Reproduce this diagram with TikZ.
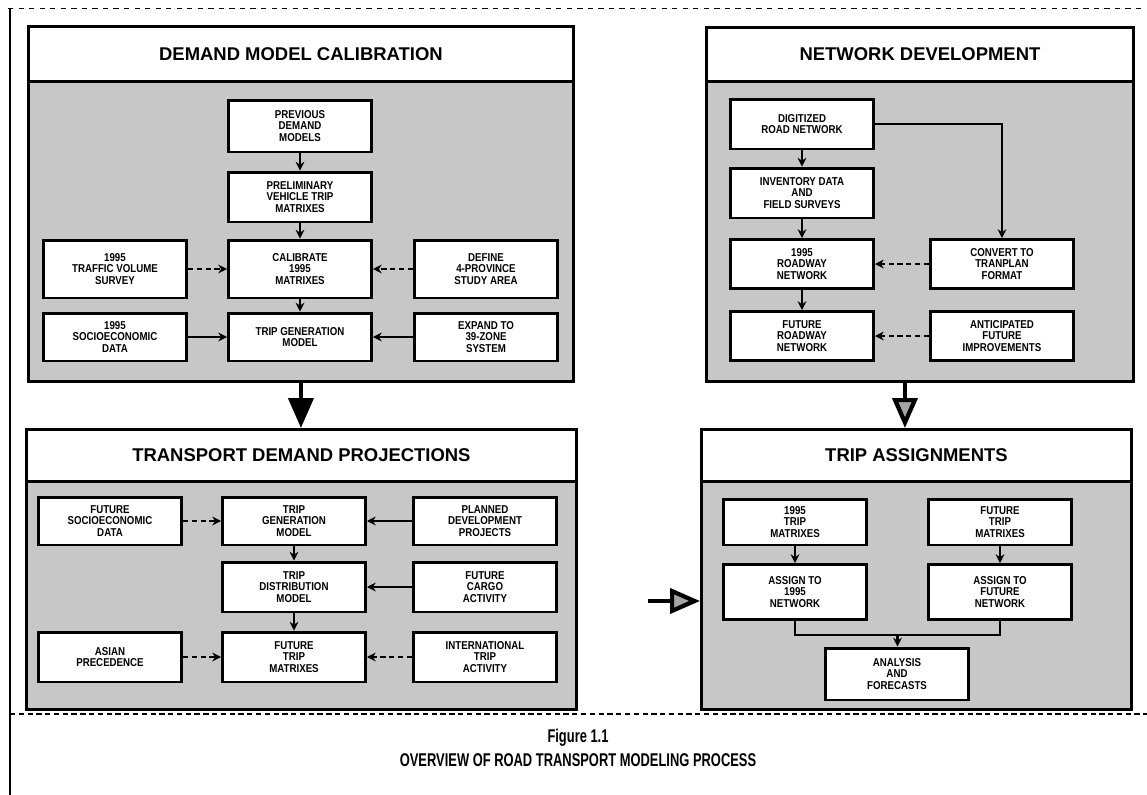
\documentclass[tikz,border=0pt]{standalone}
\usepackage{fontspec}
\setmainfont{Liberation Sans}
\newfontfamily\narrowfont{Liberation Sans}[FakeStretch=0.85]
\newfontfamily\captionfont{Liberation Sans}[FakeStretch=0.7]
\usetikzlibrary{arrows.meta}
\usetikzlibrary{positioning}
\usetikzlibrary{calc}
\tikzstyle{heavyLine}=[line width=1.7pt]
\tikzstyle{normalLine}=[line width=1.2pt]
\tikzstyle{tinyLine}=[line width=.5pt]
\tikzstyle{Panel}=[heavyLine,draw,anchor=north west,inner sep=0pt]
\tikzstyle{Head}=[Panel,fill=white,font=\bfseries\fontsize{10.5}{12}\selectfont]
\tikzstyle{Body}=[Panel,fill=black!22]
\tikzstyle{Box}=[heavyLine,draw,fill=white,align=center,inner sep=1pt,minimum width=2.86cm,minimum height=1cm,font=\narrowfont\bfseries\fontsize{6.5}{6.6}\selectfont]
\tikzstyle{Flow}=[normalLine,-{Stealth[length=5pt,width=5pt]}]
\tikzstyle{Feed}=[normalLine,densely dashed,-{Stealth[length=5pt,width=5pt]}]
\tikzstyle{BigArrow}=[line width=2.4pt,-{Triangle[length=0.6cm,width=0.5cm]}]
\tikzstyle{GreyArrow}=[line width=2.4pt,-{Triangle[length=0.6cm,width=0.5cm,fill=black!35]}]

\begin{document}
\begin{tikzpicture}[x=0.02cm,y=-0.02cm]

  \useasboundingbox (0,0) rectangle (1147,795);

  % Frame
  % -----
  \draw[tinyLine,dashed] (8,8) -- (1147,8);
  \draw[normalLine] (10,8) -- (10,795);
  \draw[normalLine,densely dashed] (10,714) -- (1147,714);

  % Demand model calibration
  % ------------------------
  \node[Body,minimum width=10.9cm,minimum height=6cm] (CalBody) at (27,80) {};
  \node[Head,minimum width=10.9cm,minimum height=1.1cm] (CalHead) at (27,25) {DEMAND MODEL CALIBRATION};

  \node[Box,minimum height=1.04cm] (PrevModels) at (300,126) {PREVIOUS\\DEMAND\\MODELS};
  \node[Box] (PrelimTrips) at (300,197) {PRELIMINARY\\VEHICLE TRIP\\MATRIXES};
  \node[Box,minimum height=1.16cm] (TrafficSurvey) at (115,269) {1995\\TRAFFIC VOLUME\\SURVEY};
  \node[Box,minimum height=1.16cm] (Calibrate) at (300,269) {CALIBRATE\\1995\\MATRIXES};
  \node[Box,minimum height=1.16cm] (StudyArea) at (486,269) {DEFINE\\4-PROVINCE\\STUDY AREA};
  \node[Box,minimum height=.96cm] (SocioData) at (115,337) {1995\\SOCIOECONOMIC\\DATA};
  \node[Box,minimum height=.96cm] (TripGen) at (300,337) {TRIP GENERATION\\MODEL};
  \node[Box,minimum height=.96cm] (ZoneSystem) at (486,337) {EXPAND TO\\39-ZONE\\SYSTEM};

  \draw[Flow] (PrevModels) -- (PrelimTrips);
  \draw[Flow] (PrelimTrips) -- (Calibrate);
  \draw[Flow] (Calibrate) -- (TripGen);
  \draw[Feed] (TrafficSurvey) -- (Calibrate);
  \draw[Feed] (StudyArea) -- (Calibrate);
  \draw[Flow] (SocioData) -- (TripGen);
  \draw[Flow] (ZoneSystem) -- (TripGen);

  % Network development
  % -------------------
  \node[Body,minimum width=8.54cm,minimum height=6cm] (NetBody) at (705,80) {};
  \node[Head,minimum width=8.54cm,minimum height=1.08cm] (NetHead) at (705,26) {NETWORK DEVELOPMENT};

  \node[Box] (Digitized) at (802,124) {DIGITIZED\\ROAD NETWORK};
  \node[Box] (Inventory) at (802,193) {INVENTORY DATA\\AND\\FIELD SURVEYS};
  \node[Box,minimum height=.98cm] (RoadwayNow) at (802,264) {1995\\ROADWAY\\NETWORK};
  \node[Box,minimum height=.98cm] (ConvertFmt) at (1002,264) {CONVERT TO\\TRANPLAN\\FORMAT};
  \node[Box,minimum height=.98cm] (RoadwayFut) at (802,336) {FUTURE\\ROADWAY\\NETWORK};
  \node[Box,minimum height=.98cm] (Improvements) at (1002,336) {ANTICIPATED\\FUTURE\\IMPROVEMENTS};

  \draw[Flow] (Digitized) -- (Inventory);
  \draw[Flow] (Inventory) -- (RoadwayNow);
  \draw[Flow] (RoadwayNow) -- (RoadwayFut);
  \draw[Flow] (Digitized.east) -| (ConvertFmt.north);
  \draw[Feed] (ConvertFmt) -- (RoadwayNow);
  \draw[Feed] (Improvements) -- (RoadwayFut);

  % Transport demand projections
  % ----------------------------
  \node[Body,minimum width=11cm,minimum height=4.56cm] (ProjBody) at (25,480) {};
  \node[Head,minimum width=11cm,minimum height=1.04cm] (ProjHead) at (25,428) {TRANSPORT DEMAND PROJECTIONS};

  \node[Box,minimum height=.96cm] (FutSocio) at (110,521) {FUTURE\\SOCIOECONOMIC\\DATA};
  \node[Box,minimum height=.96cm] (TripGenFut) at (294,521) {TRIP\\GENERATION\\MODEL};
  \node[Box,minimum height=.96cm] (Planned) at (485,521) {PLANNED\\DEVELOPMENT\\PROJECTS};
  \node[Box] (TripDist) at (294,587) {TRIP\\DISTRIBUTION\\MODEL};
  \node[Box] (Cargo) at (485,587) {FUTURE\\CARGO\\ACTIVITY};
  \node[Box] (Asian) at (110,657) {ASIAN\\PRECEDENCE};
  \node[Box] (FutTrips) at (294,657) {FUTURE\\TRIP\\MATRIXES};
  \node[Box] (Intl) at (485,657) {INTERNATIONAL\\TRIP\\ACTIVITY};

  \draw[Flow] (TripGenFut) -- (TripDist);
  \draw[Flow] (TripDist) -- (FutTrips);
  \draw[Feed] (FutSocio) -- (TripGenFut);
  \draw[Flow] (Planned) -- (TripGenFut);
  \draw[Flow] (Cargo) -- (TripDist);
  \draw[Feed] (Asian) -- (FutTrips);
  \draw[Feed] (Intl) -- (FutTrips);

  % Trip assignments
  % ----------------
  \node[Body,minimum width=8.6cm,minimum height=4.56cm] (AssignBody) at (700,480) {};
  \node[Head,minimum width=8.6cm,minimum height=1.04cm] (AssignHead) at (700,428) {TRIP ASSIGNMENTS};

  \node[Box,minimum height=.92cm] (TripsNow) at (795,522) {1995\\TRIP\\MATRIXES};
  \node[Box,minimum height=.92cm] (TripsFut) at (1000,522) {FUTURE\\TRIP\\MATRIXES};
  \node[Box,minimum height=1.1cm] (AssignNow) at (795,592) {ASSIGN TO\\1995\\NETWORK};
  \node[Box,minimum height=1.1cm] (AssignFut) at (1000,592) {ASSIGN TO\\FUTURE\\NETWORK};
  \node[Box,minimum height=1.04cm] (Analysis) at (897,674) {ANALYSIS\\AND\\FORECASTS};

  \draw[Flow] (TripsNow) -- (AssignNow);
  \draw[Flow] (TripsFut) -- (AssignFut);
  \draw[normalLine] (AssignNow.south) -- ++(0,14) coordinate (JoinL) -| (AssignFut.south);
  \coordinate (Join) at ($(JoinL)!.5!(JoinL -| AssignFut.south)$);
  \draw[Flow] (Join) -- (Join |- Analysis.north);

  % Hand-over arrows
  % ----------------
  \draw[BigArrow] (CalBody.south) -- (CalBody.south |- ProjHead.north);
  \draw[GreyArrow] ([xshift=-.3cm]NetBody.south) -- ([xshift=-.3cm]NetBody.south |- AssignHead.north);
  \coordinate (HandOver) at (648,601);
  \draw[GreyArrow] (HandOver) -- (HandOver -| AssignBody.west);

  % Caption
  % -------
  \node[font=\captionfont\bfseries\fontsize{10.5}{12}\selectfont] (FigNum) at (578,738) {Figure 1.1};
  \node[font=\captionfont\bfseries\fontsize{10.5}{12}\selectfont,below=-3pt of FigNum] (FigTitle) {OVERVIEW OF ROAD TRANSPORT MODELING PROCESS};

\end{tikzpicture}
\end{document}
